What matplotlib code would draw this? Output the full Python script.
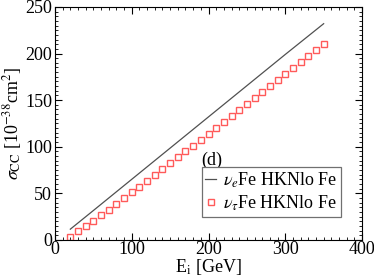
import numpy as np
import matplotlib.pyplot as plt
from matplotlib.ticker import MultipleLocator

plt.rcParams['font.family'] = ['Liberation Serif', 'DejaVu Serif']
plt.rcParams['mathtext.fontset'] = 'stix'

# nu_e Fe (line)
E_e = [20, 50, 100, 150, 200, 250, 300, 350]
sig_e = [11.5, 31.5, 65.0, 98.5, 132.0, 165.5, 199.0, 232.0]

# nu_tau Fe (squares)
E_tau = list(range(20, 351, 10))
sig_tau = [3.5, 9.0, 14.5, 20.5, 26.5, 32.5, 38.5, 44.5, 51.0, 57.0,
           63.5, 69.5, 76.0, 82.0, 88.5, 95.0, 101.0, 107.5, 114.0, 120.0,
           126.5, 133.0, 139.5, 146.0, 152.5, 159.0, 165.5, 172.0, 178.5, 184.5,
           191.0, 197.0, 203.5, 210.0]

fig = plt.figure(figsize=(3.74, 2.77), dpi=100)
ax = fig.add_axes([0.147, 0.134, 0.821, 0.841])

ax.plot(E_e, sig_e, color='#505050', lw=0.9, label=r'$\nu_e$Fe HKNlo Fe')
ax.plot(E_tau, sig_tau, ls='none', marker='s', ms=5, mfc='none',
        mec='#ff5a5a', mew=1.0, label=r'$\nu_\tau$Fe HKNlo Fe')

ax.set_xlim(0, 400)
ax.set_ylim(0, 250)
ax.xaxis.set_major_locator(MultipleLocator(100))
ax.xaxis.set_minor_locator(MultipleLocator(10))
ax.yaxis.set_major_locator(MultipleLocator(50))
ax.yaxis.set_minor_locator(MultipleLocator(5))
ax.tick_params(which='both', direction='in', top=True, right=True, labelsize=13)
ax.tick_params(axis='x', pad=1)
ax.tick_params(axis='y', pad=2)
ax.tick_params(which='major', length=5)
ax.tick_params(which='minor', length=2.5)

ax.set_xlabel(r'E$_{\rm i}$ [GeV]', fontsize=13, labelpad=-1)
ax.set_ylabel(r'$\sigma_{\rm CC}$ [10$^{-38}$cm$^2$]', fontsize=13, labelpad=1)

ax.text(190, 85, '(d)', fontsize=13, ha='left', va='center')
leg = ax.legend(loc='upper left', bbox_to_anchor=(0.478, 0.313), fontsize=13,
                handlelength=0.6, handletextpad=0.4, borderpad=0.2,
                labelspacing=0.2, borderaxespad=0, fancybox=False,
                framealpha=1, edgecolor='#707070')
leg.get_frame().set_linewidth(0.9)

plt.savefig('out.png', dpi=100)
